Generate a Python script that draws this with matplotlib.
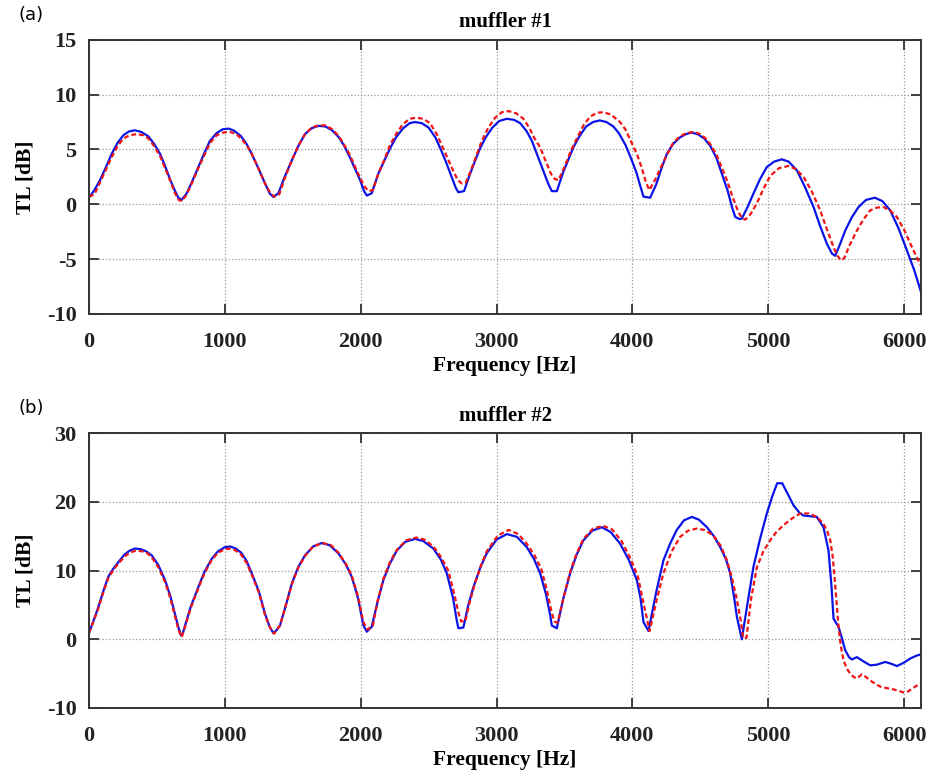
"""
Pérdida de transmisión (TL) de dos silenciadores: curva continua azul y curva discontinua roja.
"""

import matplotlib
matplotlib.use("Agg")
import matplotlib.pyplot as plt

# muffler #1 -- curva continua (azul)
freq_a_solid = [0, 40, 81, 125, 167, 210, 253, 295, 339, 385, 437, 480, 523, 560, 596, 630,
                658, 682, 719, 760, 805, 850, 891, 940, 985, 1030, 1070, 1120, 1160, 1198,
                1250, 1296, 1330, 1357, 1394, 1440, 1493, 1540, 1590, 1640, 1690, 1740, 1790,
                1840, 1880, 1920, 1960, 1996, 2025, 2045, 2081, 2130, 2175, 2216, 2260, 2310,
                2360, 2400, 2450, 2500, 2550, 2590, 2630, 2670, 2700, 2719, 2761, 2800, 2840,
                2879, 2920, 2970, 3020, 3075, 3130, 3174, 3220, 3260, 3297, 3340, 3380, 3407,
                3444, 3490, 3530, 3566, 3610, 3660, 3710, 3760, 3810, 3860, 3900, 3950, 3990,
                4030, 4060, 4082, 4131, 4175, 4215, 4254, 4300, 4350, 4395, 4435, 4480, 4530,
                4575, 4620, 4659, 4700, 4735, 4757, 4790, 4806, 4850, 4892, 4940, 4990, 5045,
                5100, 5150, 5211, 5270, 5334, 5380, 5432, 5470, 5493, 5530, 5567, 5615, 5665,
                5720, 5785, 5840, 5898, 5960, 6021, 6075, 6125]
tl_a_solid = [0.6, 1.3, 2.2, 3.4, 4.6, 5.6, 6.3, 6.65, 6.75, 6.6, 6.2, 5.5, 4.6, 3.5, 2.3, 1.3,
              0.6, 0.4, 1.0, 2.1, 3.4, 4.7, 5.8, 6.5, 6.85, 6.9, 6.7, 6.2, 5.5, 4.6,
              3.2, 1.9, 1.0, 0.67, 1.0, 2.5, 4.0, 5.3, 6.4, 6.95, 7.15, 7.1, 6.75,
              6.1, 5.3, 4.3, 3.2, 2.2, 1.2, 0.8, 1.0, 2.8, 4.0, 5.1, 6.1, 6.9,
              7.4, 7.5, 7.4, 7.0, 6.1, 5.0, 3.8, 2.5, 1.5, 1.1, 1.2, 2.6, 3.9,
              5.1, 6.1, 7.0, 7.6, 7.8, 7.7, 7.4, 6.7, 5.8, 4.6, 3.2, 1.9, 1.2,
              1.2, 2.9, 4.1, 5.2, 6.2, 7.1, 7.5, 7.65, 7.5, 7.1, 6.5, 5.4, 4.2,
              2.9, 1.6, 0.7, 0.6, 1.8, 3.3, 4.6, 5.5, 6.1, 6.4, 6.55, 6.4, 6.0,
              5.3, 4.2, 2.8, 1.3, -0.3, -1.15, -1.35, -1.3, -0.2, 1.0, 2.3, 3.4, 3.9,
              4.1, 3.9, 3.1, 1.6, -0.25, -1.9, -3.6, -4.5, -4.7, -3.6, -2.4, -1.2, -0.25,
              0.4, 0.6, 0.3, -0.55, -2.2, -4.2, -6.0, -8.0]

# muffler #1 -- curva discontinua (roja)
freq_a_dashed = [0, 40, 81, 125, 167, 210, 253, 300, 350, 400, 437, 480, 523, 560, 596, 630,
                 660, 685, 719, 760, 805, 850, 891, 940, 990, 1035, 1080, 1120, 1160, 1198,
                 1250, 1296, 1335, 1365, 1400, 1445, 1493, 1540, 1590, 1640, 1690, 1740, 1790,
                 1840, 1880, 1920, 1960, 1996, 2030, 2058, 2090, 2130, 2175, 2216, 2260, 2310,
                 2360, 2410, 2460, 2511, 2560, 2600, 2640, 2680, 2715, 2745, 2775, 2815, 2850,
                 2892, 2940, 2990, 3040, 3090, 3145, 3198, 3240, 3280, 3321, 3360, 3400, 3430,
                 3456, 3500, 3545, 3591, 3640, 3690, 3740, 3785, 3840, 3910, 3950, 3995, 4033,
                 4070, 4100, 4125, 4170, 4215, 4254, 4300, 4350, 4400, 4450, 4500, 4540, 4573,
                 4620, 4660, 4696, 4740, 4780, 4810, 4831, 4870, 4917, 4965, 5015, 5080, 5150,
                 5205, 5260, 5320, 5383, 5430, 5481, 5510, 5535, 5560, 5600, 5653, 5700, 5751,
                 5800, 5849, 5900, 5947, 6000, 6058, 6100, 6125]
tl_a_dashed = [0.7, 0.9, 2.0, 3.2, 4.3, 5.3, 6.0, 6.3, 6.4, 6.3, 6.0, 5.3, 4.4, 3.3, 2.2, 1.1,
               0.4, 0.3, 0.9, 2.0, 3.3, 4.5, 5.6, 6.3, 6.55, 6.6, 6.45, 6.0, 5.4, 4.6,
               3.2, 1.9, 1.0, 0.7, 0.9, 2.5, 4.0, 5.3, 6.4, 7.0, 7.2, 7.2, 6.85,
               6.2, 5.4, 4.5, 3.4, 2.4, 1.6, 1.2, 1.3, 2.8, 4.1, 5.4, 6.4, 7.3,
               7.8, 7.9, 7.8, 7.4, 6.4, 5.3, 4.2, 3.1, 2.2, 1.9, 2.0, 3.2, 4.4,
               5.8, 7.0, 7.9, 8.4, 8.5, 8.3, 7.8, 7.0, 6.0, 5.2, 4.0, 2.8, 2.3,
               2.2, 3.4, 4.8, 6.0, 7.2, 8.0, 8.35, 8.4, 8.2, 7.5, 6.8, 5.6, 4.6,
               3.3, 2.0, 1.3, 2.3, 3.5, 4.5, 5.6, 6.2, 6.5, 6.6, 6.4, 6.0, 5.5,
               4.5, 3.3, 2.2, 0.6, -0.7, -1.3, -1.4, -0.9, 0.1, 1.4, 2.6, 3.3, 3.5,
               3.2, 2.5, 1.2, -0.55, -2.2, -3.9, -4.7, -5.1, -4.9, -3.7, -2.4, -1.4, -0.55,
               -0.3, -0.25, -0.6, -1.15, -2.3, -3.9, -5.0, -5.6]

# muffler #2 -- curva continua (azul)
freq_b_solid = [0, 35, 69, 105, 142, 180, 216, 260, 300, 339, 380, 420, 462, 510, 560, 600,
                633, 660, 677, 690, 707, 750, 805, 850, 903, 950, 1001, 1040, 1080, 1120,
                1160, 1198, 1250, 1296, 1330, 1357, 1380, 1406, 1450, 1493, 1540, 1590, 1650,
                1713, 1770, 1836, 1890, 1934, 1980, 2020, 2045, 2081, 2125, 2167, 2215, 2266,
                2330, 2401, 2460, 2535, 2590, 2634, 2680, 2705, 2719, 2756, 2790, 2830, 2880,
                2928, 3000, 3076, 3150, 3223, 3275, 3321, 3365, 3395, 3407, 3444, 3490, 3542,
                3590, 3640, 3705, 3775, 3840, 3910, 3975, 4033, 4060, 4082, 4119, 4175, 4229,
                4280, 4327, 4380, 4438, 4490, 4549, 4600, 4647, 4690, 4720, 4750, 4770, 4806,
                4850, 4891, 4940, 4990, 5030, 5066, 5103, 5140, 5186, 5230, 5260, 5310, 5358,
                5407, 5444, 5465, 5481, 5518, 5545, 5567, 5595, 5616, 5653, 5700, 5751, 5800,
                5862, 5910, 5948, 6000, 6046, 6090, 6125]
tl_b_solid = [0.9, 2.8, 4.7, 7.0, 9.1, 10.3, 11.2, 12.3, 12.9, 13.2, 13.1, 12.8, 12.2, 10.8,
              8.6, 6.2, 3.7, 1.6, 0.6, 0.8, 2.0, 4.8, 7.6, 9.8, 11.7, 12.8, 13.4, 13.5,
              13.2, 12.6, 11.4, 9.6, 7.0, 3.7, 1.8, 0.9, 1.3, 2.0, 5.0, 8.1, 10.5, 12.2,
              13.5, 14.0, 13.7, 12.5, 10.9, 9.1, 6.0, 2.0, 1.1, 1.8, 5.5, 8.6, 11.0, 12.9,
              14.2, 14.6, 14.3, 13.2, 11.6, 9.6, 6.0, 3.0, 1.6, 1.7, 4.8, 7.6, 10.4,
              12.5, 14.5, 15.3, 14.9, 13.4, 11.7, 9.6, 6.5, 3.5, 2.0, 1.6, 5.8, 9.6,
              12.3, 14.4, 15.8, 16.3, 15.6, 13.9, 11.5, 8.6, 6.0, 2.5, 1.2, 6.8, 11.5,
              14.0, 15.9, 17.3, 17.8, 17.4, 16.3, 15.0, 13.4, 11.6, 9.6, 6.0, 3.2, 0.0,
              5.5, 10.5, 14.6, 18.3, 20.8, 22.7, 22.7, 21.3, 19.5, 18.4, 18.0, 17.9, 17.8,
              16.3, 12.9, 8.0, 3.0, 1.8, 0.0, -1.6, -2.6, -2.95, -2.6, -3.2, -3.8, -3.7,
              -3.3, -3.6, -3.9, -3.4, -2.8, -2.4, -2.2]

# muffler #2 -- curva discontinua (roja)
freq_b_dashed = [0, 35, 69, 105, 142, 180, 216, 260, 300, 345, 390, 430, 462, 510, 560, 600,
                 633, 660, 682, 707, 750, 805, 850, 903, 950, 1000, 1040, 1080, 1120, 1160,
                 1198, 1250, 1296, 1335, 1362, 1406, 1450, 1493, 1540, 1590, 1650, 1720, 1780,
                 1836, 1890, 1934, 1980, 2020, 2050, 2090, 2125, 2167, 2215, 2266, 2335, 2410,
                 2470, 2535, 2590, 2645, 2690, 2720, 2740, 2770, 2800, 2840, 2885, 2928, 3010,
                 3090, 3160, 3223, 3280, 3330, 3370, 3405, 3425, 3450, 3495, 3542, 3590, 3640,
                 3710, 3785, 3850, 3920, 3980, 4040, 4085, 4127, 4180, 4229, 4290, 4352, 4410,
                 4474, 4530, 4597, 4650, 4696, 4735, 4770, 4800, 4815, 4840, 4875, 4917, 4965,
                 5015, 5060, 5113, 5170, 5236, 5300, 5358, 5407, 5435, 5457, 5475, 5486, 5505,
                 5518, 5535, 5554, 5580, 5604, 5630, 5653, 5690, 5720, 5751, 5790, 5825, 5870,
                 5923, 5960, 5997, 6030, 6058, 6090, 6125]
tl_b_dashed = [0.9, 2.7, 4.5, 6.8, 8.9, 10.1, 11.0, 12.0, 12.6, 12.9, 12.8, 12.5, 11.9, 10.5,
               8.3, 5.9, 3.3, 1.3, 0.3, 1.8, 4.6, 7.4, 9.6, 11.5, 12.6, 13.1, 13.2, 12.9,
               12.3, 11.1, 9.4, 6.8, 3.5, 1.6, 0.8, 2.0, 5.0, 8.0, 10.4, 12.1, 13.5, 14.0,
               13.7, 12.6, 11.0, 9.3, 6.3, 2.5, 1.4, 2.0, 5.6, 8.8, 11.2, 13.0, 14.4, 14.8,
               14.5, 13.5, 12.0, 10.0, 6.5, 3.8, 2.6, 2.6, 5.2, 8.0, 10.7, 12.8, 15.1,
               15.9, 15.3, 13.9, 12.2, 10.2, 7.2, 4.0, 2.6, 2.4, 6.2, 9.8, 12.5, 14.6,
               16.1, 16.5, 16.0, 14.3, 12.0, 9.2, 5.0, 1.2, 5.8, 9.6, 12.8, 14.9, 15.8,
               16.1, 15.9, 15.1, 13.6, 11.5, 8.8, 5.7, 2.5, 0.2, 0.2, 6.0, 10.5, 12.8,
               14.4, 15.6, 16.6, 17.5, 18.3, 18.3, 17.8, 16.8, 15.7, 14.4, 12.0, 9.6, 5.0,
               1.8, -1.0, -3.05, -4.3, -5.0, -5.5, -5.7, -5.1, -5.5, -6.0, -6.5, -6.9, -7.1,
               -7.3, -7.5, -7.75, -7.6, -7.2, -6.8, -6.4]

x_ticks = [0, 1000, 2000, 3000, 4000, 5000, 6000]
y_ticks_a = [-10, -5, 0, 5, 10, 15]
y_ticks_b = [-10, 0, 10, 20, 30]

plt.rcParams["font.family"] = "Liberation Serif"
plt.rcParams["font.weight"] = "bold"
plt.rcParams["axes.unicode_minus"] = False

fig = plt.figure(figsize=(9.29, 7.81), dpi=100)
ax_a = fig.add_axes([0.0958, 0.598, 0.8956, 0.351])
ax_b = fig.add_axes([0.0958, 0.0935, 0.8956, 0.352])

paneles = [
    (ax_a, freq_a_solid, tl_a_solid, freq_a_dashed, tl_a_dashed, y_ticks_a, "muffler #1", "(a)"),
    (ax_b, freq_b_solid, tl_b_solid, freq_b_dashed, tl_b_dashed, y_ticks_b, "muffler #2", "(b)"),
]

for ax, fs, ts, fd, td, yt, titulo, letra in paneles:
    ax.plot(fs, ts, color="#0a14e6", lw=1.6, solid_joinstyle="round")
    ax.plot(fd, td, color="#f01414", lw=1.6, ls=(0, (2.2, 1.3)))
    ax.set_xlim(0, 6125)
    ax.set_ylim(yt[0], yt[-1])
    ax.set_xticks(x_ticks)
    ax.set_yticks(yt)
    ax.grid(True, color="#999999", ls=":", lw=0.9)
    ax.tick_params(direction="in", length=7, width=1.2, top=True, right=True,
                   labelsize=16, colors="#222222")
    ax.tick_params(axis="x", pad=13)
    ax.tick_params(axis="y", pad=9)
    for lab in ax.get_xticklabels() + ax.get_yticklabels():
        lab.set_fontweight("bold")
    for sp in ax.spines.values():
        sp.set_linewidth(1.4)
        sp.set_color("#333333")
    ax.set_xlabel("Frequency [Hz]", fontsize=15.5, fontweight="bold", labelpad=3)
    ax.set_ylabel("TL [dB]", fontsize=15.5, fontweight="bold", labelpad=8)
    ax.set_title(titulo, fontsize=15, fontweight="bold", pad=9)
    ax.text(-0.085, 1.09, letra, transform=ax.transAxes, fontsize=13,
            fontweight="normal", family="DejaVu Sans", ha="left", va="center")

plt.savefig("out.png", dpi=100)
